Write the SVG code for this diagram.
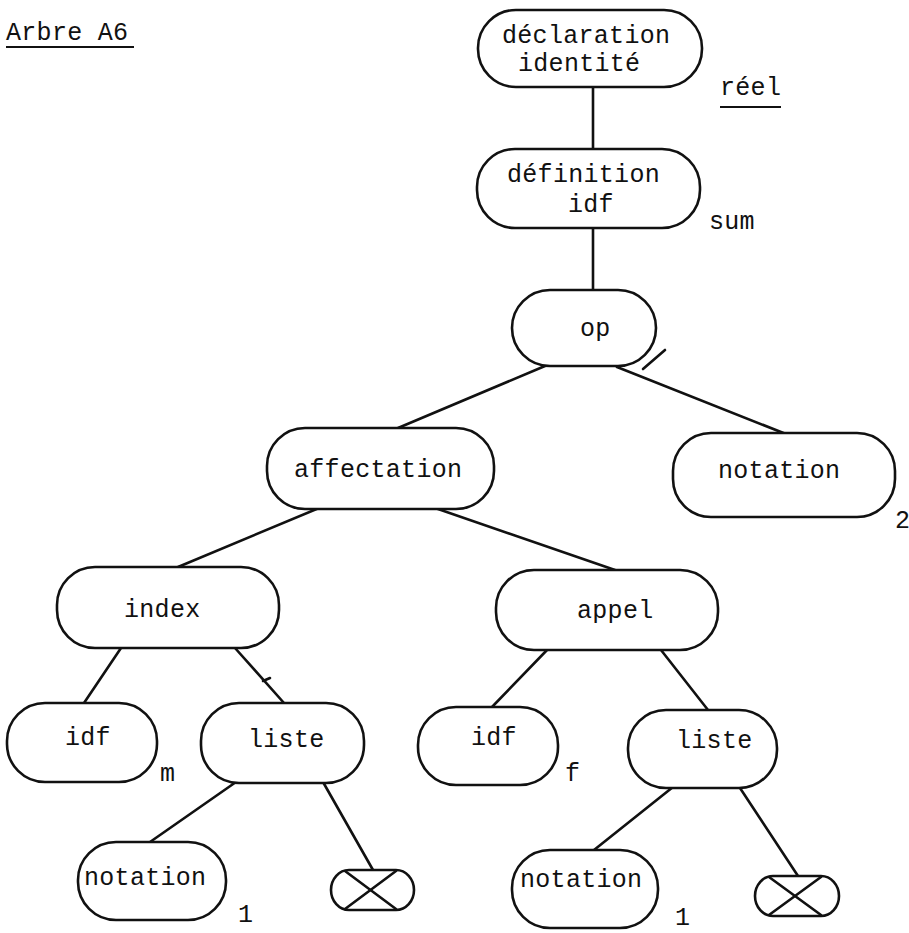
<svg xmlns="http://www.w3.org/2000/svg" width="909" height="933" viewBox="0 0 909 933">
<style>
  .n { fill: #fff; stroke: #111; stroke-width: 2.6; }
  .e { stroke: #111; stroke-width: 2.6; fill: none; stroke-linecap: round; }
  text { font-family: "Liberation Mono", "DejaVu Sans Mono", monospace; font-size: 25px; letter-spacing: 0.3px; fill: #111; }
  .u { stroke: #111; stroke-width: 2; }
</style>
<rect width="909" height="933" fill="#fff"/>
<g id="title">
  <text x="6" y="40">Arbre A6</text>
  <line class="u" x1="6" y1="47" x2="134" y2="47"/>
</g>
<g id="connectors">
  <line class="e" x1="593" y1="87" x2="593" y2="149"/>
  <line class="e" x1="593" y1="228" x2="593" y2="290"/>
  <line class="e" x1="545" y1="366" x2="398" y2="428"/>
  <line class="e" x1="617" y1="367" x2="786" y2="434"/>
  <line class="e" x1="319" y1="508" x2="178" y2="567"/>
  <line class="e" x1="438" y1="509" x2="615" y2="570"/>
  <line class="e" x1="121" y1="648" x2="84" y2="703"/>
  <line class="e" x1="235" y1="648" x2="284" y2="703"/>
  <line class="e" x1="548" y1="649" x2="492" y2="707"/>
  <line class="e" x1="661" y1="650" x2="708" y2="710"/>
  <line class="e" x1="236" y1="782" x2="150" y2="842"/>
  <line class="e" x1="323" y1="782" x2="373" y2="870"/>
  <line class="e" x1="673" y1="787" x2="594" y2="850"/>
  <line class="e" x1="740" y1="788" x2="798" y2="876"/>
  <line class="e" x1="643" y1="369" x2="665" y2="350" stroke-width="2"/>
  <line class="e" x1="263" y1="681" x2="270" y2="678" stroke-width="1.5"/>
</g>
<g id="n-declaration">
  <rect class="n" x="478" y="10" width="224" height="77" rx="38" ry="38"/>
  <text x="502" y="43">déclaration</text>
  <text x="518" y="71">identité</text>
</g>
<g id="lbl-reel">
  <text x="720" y="95">réel</text>
  <line class="u" x1="720" y1="107" x2="781" y2="107"/>
</g>
<g id="n-definition">
  <rect class="n" x="477" y="149" width="223" height="79" rx="38" ry="38"/>
  <text x="507" y="182">définition</text>
  <text x="568" y="212">idf</text>
</g>
<g id="lbl-sum"><text x="709" y="229">sum</text></g>
<g id="n-op">
  <rect class="n" x="512" y="290" width="144" height="76" rx="38" ry="38"/>
  <text x="580" y="336">op</text>
</g>
<g id="n-affectation">
  <rect class="n" x="267" y="428" width="227" height="81" rx="38" ry="38"/>
  <text x="294" y="477">affectation</text>
</g>
<g id="n-notation-2">
  <rect class="n" x="673" y="433" width="222" height="84" rx="38" ry="38"/>
  <text x="718" y="478">notation</text>
  <text x="895" y="528">2</text>
</g>
<g id="n-index">
  <rect class="n" x="57" y="567" width="222" height="81" rx="38" ry="38"/>
  <text x="124" y="617">index</text>
</g>
<g id="n-appel">
  <rect class="n" x="496" y="570" width="222" height="80" rx="38" ry="38"/>
  <text x="577" y="618">appel</text>
</g>
<g id="n-idf-m">
  <rect class="n" x="7" y="703" width="150" height="79" rx="38" ry="38"/>
  <text x="65" y="745">idf</text>
  <text x="160" y="781">m</text>
</g>
<g id="n-liste-1">
  <rect class="n" x="201" y="703" width="163" height="80" rx="38" ry="38"/>
  <text x="248" y="747">liste</text>
</g>
<g id="n-idf-f">
  <rect class="n" x="418" y="707" width="140" height="78" rx="38" ry="38"/>
  <text x="471" y="745">idf</text>
  <text x="565" y="781">f</text>
</g>
<g id="n-liste-2">
  <rect class="n" x="628" y="710" width="149" height="78" rx="38" ry="38"/>
  <text x="676" y="748">liste</text>
</g>
<g id="n-notation-1a">
  <rect class="n" x="78" y="842" width="148" height="78" rx="38" ry="38"/>
  <text x="84" y="885">notation</text>
  <text x="238" y="922">1</text>
</g>
<g id="n-empty-1">
  <rect class="n" x="331" y="870" width="83" height="40" rx="18" ry="20"/>
  <line class="e" x1="345" y1="871" x2="396" y2="909"/>
  <line class="e" x1="396" y1="871" x2="345" y2="909"/>
</g>
<g id="n-notation-1b">
  <rect class="n" x="512" y="850" width="146" height="78" rx="38" ry="38"/>
  <text x="520" y="887">notation</text>
  <text x="675" y="925">1</text>
</g>
<g id="n-empty-2">
  <rect class="n" x="755" y="876" width="84" height="40" rx="18" ry="20"/>
  <line class="e" x1="769" y1="877" x2="821" y2="915"/>
  <line class="e" x1="821" y1="877" x2="769" y2="915"/>
</g>
</svg>
